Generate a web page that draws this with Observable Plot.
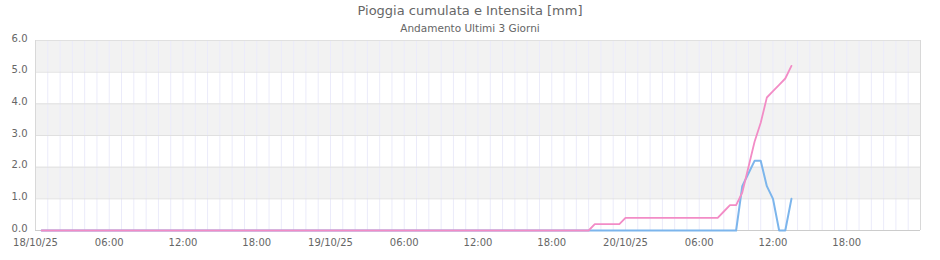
<!DOCTYPE html>
<html>
<head>
<meta charset="utf-8">
<script src="https://cdn.jsdelivr.net/npm/d3@7"></script>
<script src="https://cdn.jsdelivr.net/npm/@observablehq/plot@0.6"></script>
<style>
  body { margin: 0; background: #fff; font-family: "DejaVu Sans", sans-serif; }
  #wrap { width: 940px; }
  .title { height: 21px; line-height: 22px; text-align: center; font-size: 13px; color: #666; overflow: visible; }
  .subtitle { height: 14px; line-height: 14px; text-align: center; font-size: 10.5px; color: #666; }
  #chart svg { overflow: visible; }
</style>
</head>
<body>
<div id="wrap">
  <div class="title">Pioggia cumulata e Intensita [mm]</div>
  <div class="subtitle">Andamento Ultimi 3 Giorni</div>
  <div id="chart"></div>
</div>
<script>
// x domain: last 3 days
const xDomain = ["2025-10-18T00:00Z", "2025-10-21T00:00Z"];
const yTicks = [0, 1, 2, 3, 4, 5, 6];

// Pioggia cumulata (pink) — breakpoints
const cumTimes = [
  "2025-10-18T00:30Z", "2025-10-19T21:00Z", "2025-10-19T21:30Z", "2025-10-19T23:30Z",
  "2025-10-20T00:00Z", "2025-10-20T07:30Z", "2025-10-20T08:00Z", "2025-10-20T08:30Z",
  "2025-10-20T09:00Z", "2025-10-20T09:30Z", "2025-10-20T10:00Z", "2025-10-20T10:30Z",
  "2025-10-20T11:00Z", "2025-10-20T11:30Z", "2025-10-20T12:00Z", "2025-10-20T12:30Z",
  "2025-10-20T13:00Z", "2025-10-20T13:30Z"
];
const cumValues = [0, 0, 0.2, 0.2, 0.4, 0.4, 0.6, 0.8, 0.8, 1.2, 2.0, 2.8, 3.4, 4.2, 4.4, 4.6, 4.8, 5.2];

// Intensita (blue)
const intTimes = [
  "2025-10-18T00:30Z", "2025-10-20T09:00Z", "2025-10-20T09:30Z", "2025-10-20T10:00Z",
  "2025-10-20T10:30Z", "2025-10-20T11:00Z", "2025-10-20T11:30Z", "2025-10-20T12:00Z",
  "2025-10-20T12:30Z", "2025-10-20T13:00Z", "2025-10-20T13:30Z"
];
const intValues = [0, 0, 1.4, 1.8, 2.2, 2.2, 1.4, 1.0, 0, 0, 1.0];

const cum = cumTimes.map((t, i) => ({t: new Date(t), v: cumValues[i]}));
const intens = intTimes.map((t, i) => ({t: new Date(t), v: intValues[i]}));

const x0 = new Date(xDomain[0]), x1 = new Date(xDomain[1]);
const bands = yTicks.slice(0, -1).filter((d, i) => i % 2 === 1).map(d => ({y1: d, y2: d + 1}));
const hours = d3.utcHour.range(x0, x1);
const sixHours = d3.utcHour.every(6).range(x0, x1);

const fmtDay = d3.utcFormat("%d/%m/%y");
const fmtHour = d3.utcFormat("%H:%M");

const chart = Plot.plot({
  width: 940,
  height: 225,
  marginTop: 5,
  marginBottom: 30,
  marginLeft: 35,
  marginRight: 20,
  style: { fontFamily: "DejaVu Sans, sans-serif", fontSize: "10px", color: "#666", background: "#fff", overflow: "visible" },
  x: { type: "utc", domain: [x0, x1] },
  y: { domain: [0, 6] },
  marks: [
    Plot.rect(bands, { x1: () => x0, x2: () => x1, y1: "y1", y2: "y2", fill: "#f2f2f2" }),
    Plot.ruleX(hours, { stroke: "#ebebfa", strokeWidth: 1 }),
    Plot.ruleY(yTicks, { stroke: "#e0e0e0", strokeWidth: 1 }),
    Plot.ruleX([x0, x1], { stroke: "#d8d8d8" }),
    Plot.ruleY([0], { stroke: "#cccccc" }),
    Plot.axisY({ ticks: yTicks, tickSize: 0, tickPadding: 8, tickFormat: d => d.toFixed(1), dy: -2, label: null, fill: "#666" }),
    Plot.axisX({ ticks: sixHours, tickSize: 0, tickPadding: 8, label: null, fill: "#666",
      tickFormat: d => d.getUTCHours() === 0 ? fmtDay(d) : fmtHour(d) }),
    Plot.line(intens, { x: "t", y: "v", stroke: "#7cb5ec", strokeWidth: 2 }),
    Plot.line(cum, { x: "t", y: "v", stroke: "#f28cc6", strokeWidth: 1.8 })
  ]
});
document.getElementById("chart").appendChild(chart);
</script>
</body>
</html>
